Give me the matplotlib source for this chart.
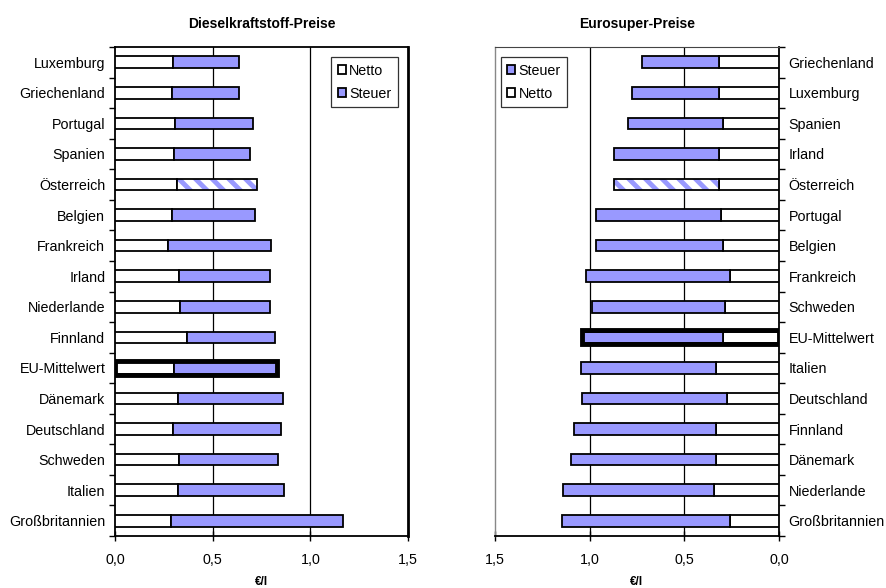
import numpy as np
import matplotlib.pyplot as plt

plt.rcParams['font.family'] = ['Liberation Sans', 'DejaVu Sans']
plt.rcParams['hatch.linewidth'] = 3.5

BLUE = '#9999ff'

# Diesel: Nettopreis und Steuer in EUR/l (oben nach unten)
diesel_laender = ['Luxemburg', 'Griechenland', 'Portugal', 'Spanien', 'Österreich',
                  'Belgien', 'Frankreich', 'Irland', 'Niederlande', 'Finnland',
                  'EU-Mittelwert', 'Dänemark', 'Deutschland', 'Schweden', 'Italien',
                  'Großbritannien']
diesel_netto = [0.298, 0.293, 0.307, 0.302, 0.315, 0.293, 0.273, 0.329,
                0.334, 0.370, 0.302, 0.321, 0.295, 0.329, 0.321, 0.287]
diesel_steuer = [0.338, 0.341, 0.397, 0.388, 0.410, 0.423, 0.528, 0.464,
                 0.459, 0.448, 0.525, 0.540, 0.553, 0.506, 0.545, 0.881]

# Eurosuper
super_laender = ['Griechenland', 'Luxemburg', 'Spanien', 'Irland', 'Österreich',
                 'Portugal', 'Belgien', 'Frankreich', 'Schweden', 'EU-Mittelwert',
                 'Italien', 'Deutschland', 'Finnland', 'Dänemark', 'Niederlande',
                 'Großbritannien']
super_netto = [0.317, 0.317, 0.295, 0.317, 0.317, 0.308, 0.295, 0.260,
               0.287, 0.295, 0.331, 0.273, 0.331, 0.331, 0.343, 0.260]
super_steuer = [0.406, 0.457, 0.505, 0.555, 0.555, 0.656, 0.669, 0.760,
                0.703, 0.743, 0.717, 0.767, 0.751, 0.765, 0.797, 0.885]

xticks = [0.0, 0.5, 1.0, 1.5]
xticklabels = ['0,0', '0,5', '1,0', '1,5']

FS = 10.3


def draw(ax, laender, netto, steuer):
    n = len(laender)
    y = np.arange(n)[::-1]
    h = 0.38
    netto = np.array(netto)
    steuer = np.array(steuer)
    ax.barh(y, netto, height=h, color='white', edgecolor='black',
            linewidth=1.3, label='Netto', zorder=3)
    for i in range(n):
        lab = 'Steuer' if i == 0 else None
        if laender[i] == 'Österreich':
            ax.barh(y[i], steuer[i], left=netto[i], height=h, color='white',
                    edgecolor=BLUE, hatch='\\\\', linewidth=0, zorder=3)
            ax.barh(y[i], steuer[i], left=netto[i], height=h, fill=False,
                    edgecolor='black', linewidth=1.3, zorder=4)
        else:
            ax.barh(y[i], steuer[i], left=netto[i], height=h, color=BLUE,
                    edgecolor='black', linewidth=1.3, label=lab, zorder=3)
    # EU-Mittelwert hervorheben
    k = laender.index('EU-Mittelwert')
    ax.barh(y[k], netto[k] + steuer[k], height=h + 0.08, fill=False,
            edgecolor='black', linewidth=3.5, zorder=5)

    ax.set_ylim(-0.5, n - 0.5)
    ax.set_yticks(y)
    ax.set_yticklabels(laender, fontsize=FS)
    ax.set_yticks(np.arange(-0.5, n, 1.0), minor=True)
    ax.tick_params(axis='y', which='major', length=0, pad=7)
    ax.tick_params(axis='y', which='minor', length=4, width=1)
    ax.set_xlim(0, 1.5)
    ax.set_xticks(xticks)
    ax.set_xticklabels(xticklabels, fontsize=FS)
    ax.tick_params(axis='x', direction='inout', length=7, width=1, pad=9)
    for v in [0.5, 1.0]:
        ax.axvline(v, color='black', linewidth=0.9, zorder=1)
    ax.set_xlabel('€/l', fontsize=8.5, fontweight='bold', labelpad=6)


def legend(ax, order, loc, anchor):
    hs, ls = ax.get_legend_handles_labels()
    idx = [ls.index(o) for o in order]
    leg = ax.legend([hs[i] for i in idx], [ls[i] for i in idx], loc=loc,
                    bbox_to_anchor=anchor, fontsize=FS, frameon=True,
                    fancybox=False, handlelength=0.55, handleheight=0.6,
                    handletextpad=0.25, borderpad=0.45, labelspacing=0.65,
                    borderaxespad=0.2)
    leg.get_frame().set_edgecolor('black')
    leg.get_frame().set_linewidth(0.9)


fig = plt.figure(figsize=(8.86, 5.88), dpi=100)
ax1 = fig.add_axes([115 / 886, 52 / 588, 293 / 886, 489 / 588])
ax2 = fig.add_axes([495 / 886, 52 / 588, 284 / 886, 489 / 588])

draw(ax1, diesel_laender, diesel_netto, diesel_steuer)
ax1.set_title('Dieselkraftstoff-Preise', fontsize=10, fontweight='bold', pad=14)
for s in ['left', 'bottom', 'top', 'right']:
    ax1.spines[s].set_linewidth(1.3)
    ax1.spines[s].set_color('black')
ax1.spines['right'].set_linewidth(2)
legend(ax1, ['Netto', 'Steuer'], 'upper right', (0.975, 0.985))

draw(ax2, super_laender, super_netto, super_steuer)
ax2.set_xlim(1.5, 0)
ax2.yaxis.tick_right()
ax2.set_title('Eurosuper-Preise', fontsize=10, fontweight='bold', pad=14)
ax2.spines['left'].set_color('#888888')
ax2.spines['left'].set_linewidth(1)
ax2.spines['top'].set_color('#444444')
ax2.spines['right'].set_linewidth(1.3)
ax2.spines['bottom'].set_linewidth(1.3)
legend(ax2, ['Steuer', 'Netto'], 'upper left', (0.01, 0.985))

fig.savefig('out.png', dpi=100)
